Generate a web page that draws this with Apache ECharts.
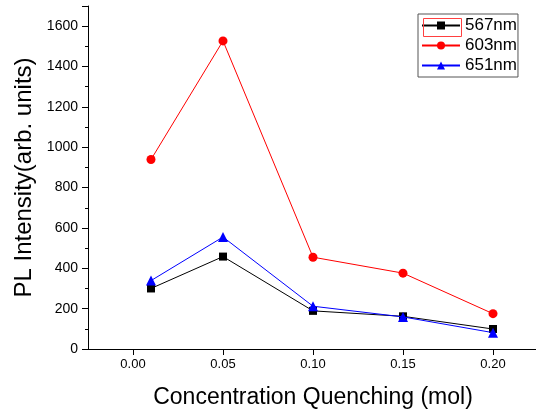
<!DOCTYPE html>
<html>
<head>
<meta charset="utf-8">
<script src="https://cdn.jsdelivr.net/npm/echarts@6/dist/echarts.min.js"></script>
<style>html,body{margin:0;padding:0;background:#fff;}#c{width:536px;height:410px;}</style>
</head>
<body>
<div id="c"></div>
<script>
var xValues = [0.01, 0.05, 0.10, 0.15, 0.20];
var s567 = [300, 458, 189, 162, 99];
var s603 = [939, 1527, 455, 376, 175];
var s651 = [339, 555, 212, 159, 81];
var xTicks = [0, 0.05, 0.10, 0.15, 0.20];
var seriesNames = ['567nm', '603nm', '651nm'];

function pairs(vals){ return xValues.map(function(x,i){return [x, vals[i]];}); }

var circlePath = 'path://M50,0A50,50,0,1,1,50,100A50,50,0,1,1,50,0Z';
var chart = echarts.init(document.getElementById('c'));
var font = 'Liberation Sans, Arial, sans-serif';
chart.setOption({
  animation: false,
  backgroundColor: '#fff',
  grid: {left: 88, top: 6, right: -2, bottom: 61, outerBoundsMode: 'none', containLabel: false},
  legend: {
    orient: 'vertical', left: 418, top: 14,
    padding: [3, 1, 3, 3], itemGap: 3, itemWidth: 38, itemHeight: 10,
    borderColor: '#555', borderWidth: 1,
    textStyle: {fontFamily: font, fontSize: 17, color: '#000'},
    data: seriesNames
  },
  xAxis: {
    type: 'value', min: -0.025, max: 0.225,
    name: 'Concentration Quenching (mol)', nameLocation: 'middle', nameGap: 37,
    nameTextStyle: {fontFamily: font, fontSize: 23, color: '#000'},
    axisLine: {onZero: false, lineStyle: {color: '#000', width: 1}},
    axisTick: {customValues: xTicks, length: 6, inside: false, lineStyle: {color: '#000'}},
    axisLabel: {customValues: xTicks, fontFamily: font, fontSize: 13, color: '#000', margin: 9,
      formatter: function(v){ return v.toFixed(2); }},
    splitLine: {show: false}
  },
  yAxis: {
    type: 'value', min: 0, max: 1700, interval: 200,
    name: 'PL Intensity(arb. units)', nameLocation: 'middle', nameGap: 52,
    nameTextStyle: {fontFamily: font, fontSize: 24, color: '#000'},
    axisLine: {show: true, onZero: false, lineStyle: {color: '#000', width: 1}},
    axisTick: {show: true, length: 6, lineStyle: {color: '#000'}},
    minorTick: {show: true, splitNumber: 2, length: 3, lineStyle: {color: '#000'}},
    axisLabel: {fontFamily: font, fontSize: 14, color: '#000', margin: 10, showMaxLabel: false,
      formatter: function(v){ return String(v); }},
    splitLine: {show: false}
  },
  graphic: [{
    type: 'rect', left: 421, top: 16, shape: {width: 38, height: 18},
    style: {fill: 'none', stroke: '#ff4040', lineWidth: 1}, z: 100
  }],
  series: [
    {name: seriesNames[0], type: 'line', data: pairs(s567), symbol: 'rect', symbolSize: 8,
      itemStyle: {color: '#000', borderColor: '#000', borderWidth: 0}, lineStyle: {color: '#000', width: 1}, z: 3},
    {name: seriesNames[1], type: 'line', data: pairs(s603), symbol: circlePath, symbolSize: 9,
      itemStyle: {color: '#ff0000', borderColor: '#ff0000', borderWidth: 0}, lineStyle: {color: '#ff0000', width: 1}, z: 2},
    {name: seriesNames[2], type: 'line', data: pairs(s651), symbol: 'triangle', symbolSize: 10,
      itemStyle: {color: '#0000ff', borderColor: '#0000ff', borderWidth: 0}, lineStyle: {color: '#0000ff', width: 1}, z: 4}
  ]
});
</script>
</body>
</html>
